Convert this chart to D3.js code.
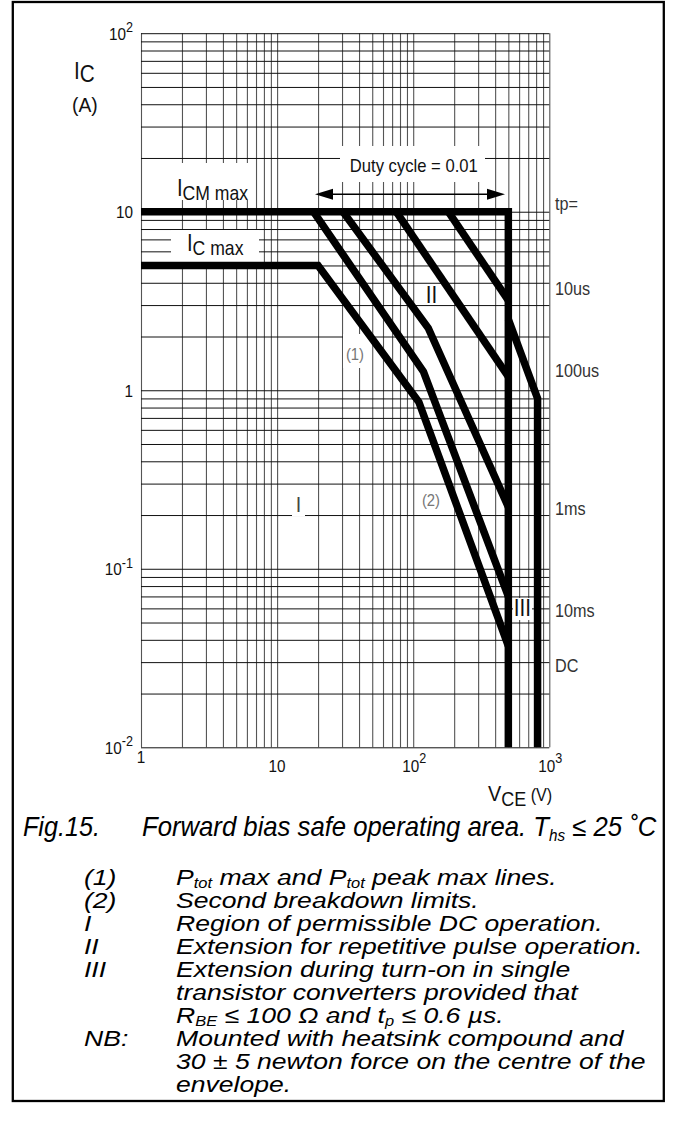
<!DOCTYPE html>
<html>
<head>
<meta charset="utf-8">
<script src="https://cdn.jsdelivr.net/npm/d3@7"></script>
<style>
  html, body { margin: 0; padding: 0; background: #fff; }
  svg { display: block; }
  text { font-family: "Liberation Sans", Arial, Helvetica, sans-serif; white-space: pre; }
</style>
</head>
<body>
<svg id="chart" width="674" height="1142"></svg>
<script>
// ---------------- DATA ----------------
const vceDomain = [1, 1000];      // V_CE (V)
const icDomain = [0.01, 100];     // I_C (A)

const xTickLabels = [
  { v: 1, base: "1" }, { v: 10, base: "10" },
  { v: 100, base: "10", exp: "2" }, { v: 1000, base: "10", exp: "3" }
];
const yTickLabels = [
  { v: 100, base: "10", exp: "2" }, { v: 10, base: "10" }, { v: 1, base: "1" },
  { v: 0.1, base: "10", exp: "-1" }, { v: 0.01, base: "10", exp: "-2" }
];

// [V_CE, I_C] vertices of the limit lines
const icmMaxLine = [[1, 10], [500, 10], [500, 0.01]];
const dcLine     = [[1, 5], [20, 5], [110, 0.86], [500, 0.037]];
const line10ms   = [[18.5, 10], [119, 1.27], [500, 0.07]];
const line1ms    = [[30.5, 10], [129, 2.23], [500, 0.222]];
const line100us  = [[75, 10], [500, 1.19]];
const line10us   = [[181, 10], [500, 3.19]];
const regionIII  = [[500, 2.5], [820, 0.9], [820, 0.01]];

const pulseLabels = ["tp=", "10us", "100us", "1ms", "10ms", "DC"];

const notes = [
  { key: "(1)", parts: ["P", { t: "tot", sub: true }, " max and P", { t: "tot", sub: true }, " peak max lines."] },
  { key: "(2)", parts: ["Second breakdown limits."] },
  { key: "I",   parts: ["Region of permissible DC operation."] },
  { key: "II",  parts: ["Extension for repetitive pulse operation."] },
  { key: "III", parts: ["Extension during turn-on in single"] },
  { key: "",    parts: ["transistor converters provided that"] },
  { key: "",    parts: ["R", { t: "BE", sub: true }, " \u2264 100 \u03A9 and t", { t: "p", sub: true }, " \u2264 0.6 \u00B5s."] },
  { key: "NB:", parts: ["Mounted with heatsink compound and"] },
  { key: "",    parts: ["30 \u00B1 5 newton force on the centre of the"] },
  { key: "",    parts: ["envelope."] }
];

// ---------------- LAYOUT ----------------
const svg = d3.select("#chart");
const L = 141, R = 549.3, T = 33.2, B = 747.3;

const x = d3.scaleLog().domain(vceDomain).range([L, R]);
const y = d3.scaleLog().domain(icDomain).range([B, T]);

svg.append("rect").attr("width", 674).attr("height", 1142).attr("fill", "#fff");

// helper: text with tspans (sub / sup), optional horizontal condensing
function txt(parent, px, py, parts, o) {
  o = Object.assign({ size: 15, anchor: "start", sx: 1, fill: "#111", italic: false }, o || {});
  const t = parent.append("text").attr("x", px).attr("y", py)
    .attr("font-size", o.size).attr("text-anchor", o.anchor).attr("fill", o.fill)
    .attr("font-style", o.italic ? "italic" : "normal");
  if (o.sx !== 1) t.attr("transform", `translate(${px},0) scale(${o.sx},1) translate(${-px},0)`);
  let cur = 0;
  (typeof parts === "string" ? [parts] : parts).forEach(p => {
    if (typeof p === "string") p = { t: p };
    let off = p.off !== undefined ? p.off : 0, size = p.size;
    if (p.sub) { off = o.subOff !== undefined ? o.subOff : o.size * 0.25; size = size || o.size * 0.62; }
    if (p.sup) { off = o.supOff !== undefined ? o.supOff : -o.size * 0.45; size = size || o.size * 0.8; }
    const ts = t.append("tspan").attr("dy", off - cur).text(p.t);
    if (size) ts.attr("font-size", size);
    cur = off;
  });
  return t;
}
function fitWidth(t, px, w) {
  t.attr("transform", null);
  const bw = t.node().getBBox().width;
  const s = w / bw;
  t.attr("transform", `translate(${px},0) scale(${s},1) translate(${-px},0)`);
  return s;
}

// ---------------- GRID ----------------
const gridX = svg.append("g").attr("transform", `translate(0,${B})`)
  .call(d3.axisBottom(x).tickSize(-(B - T)).tickFormat(""));
gridX.select(".domain").remove();
gridX.selectAll("line").attr("stroke", "#555").attr("stroke-width", 1.1);

const gridY = svg.append("g").attr("transform", `translate(${L},0)`)
  .call(d3.axisLeft(y).tickSize(-(R - L)).tickFormat(""));
gridY.select(".domain").remove();
gridY.selectAll("line").attr("stroke", "#111").attr("stroke-width", 1);

// white label backgrounds cutting the grid
const boxes = [
  [340, 146, 145, 36],   // Duty cycle
  [172, 163, 83, 37],    // ICM max
  [171, 230, 88, 32],    // IC max
  [343, 334, 25, 34],    // (1)
  [419, 488, 24, 22],    // (2)
  [513, 598, 19, 22],    // III
  [292, 494, 13, 22]     // I
];
svg.append("g").selectAll("rect").data(boxes).join("rect")
  .attr("x", d => d[0]).attr("y", d => d[1]).attr("width", d => d[2]).attr("height", d => d[3])
  .attr("fill", "#fff");

// ---------------- LIMIT LINES ----------------
const line = d3.line().x(d => x(d[0])).y(d => y(d[1]));
const curves = [icmMaxLine, dcLine, line10ms, line1ms, line100us, line10us, regionIII];
svg.append("g").selectAll("path").data(curves).join("path")
  .attr("d", line).attr("fill", "none").attr("stroke", "#000")
  .attr("stroke-width", 7.5).attr("stroke-linejoin", "miter").attr("stroke-linecap", "butt");

// duty cycle arrow
const ag = svg.append("g");
const ay = 194.3, ax1 = 315, ax2 = 505;
ag.append("line").attr("x1", ax1 + 10).attr("x2", ax2 - 10).attr("y1", ay).attr("y2", ay)
  .attr("stroke", "#000").attr("stroke-width", 1.4);
ag.append("path").attr("d", `M${ax1},${ay} L${ax1 + 18},${ay - 5.5} L${ax1 + 18},${ay + 5.5} Z`).attr("fill", "#000");
ag.append("path").attr("d", `M${ax2},${ay} L${ax2 - 18},${ay - 5.5} L${ax2 - 18},${ay + 5.5} Z`).attr("fill", "#000");

// ---------------- TEXT ----------------
const tg = svg.append("g");

// tick labels
yTickLabels.forEach(d => {
  const parts = [d.base];
  if (d.exp) parts.push({ t: d.exp, off: -7.5, size: 14 });
  txt(tg, 133, y(d.v) + 6.5, parts, { size: 17, anchor: "end", sx: 0.9 });
});
xTickLabels.forEach(d => {
  const parts = [d.base];
  if (d.exp) parts.push({ t: d.exp, off: -8.5, size: 14 });
  const by = d.v === 1 ? 763.5 : 772;
  txt(tg, x(d.v) + (d.exp ? 1 : 0), by, parts, { size: 17, anchor: "middle", sx: 0.9 });
});

// axis titles
txt(tg, 74, 79, ["I", { t: "C", off: 3.5, size: 23 }], { size: 23, sx: 0.9 });
txt(tg, 72, 112, ["(A)"], { size: 21, sx: 0.92 });
txt(tg, 488, 801, ["V", { t: "CE", off: 5, size: 20 }, { t: " (V)", off: 0, size: 18 }], { size: 22, sx: 0.9 });

// in-plot labels
txt(tg, 413.8, 172, ["Duty cycle = 0.01"], { size: 18.5, anchor: "middle", sx: 0.9 });
txt(tg, 177, 196, ["I", { t: "CM max", off: 4, size: 20 }], { size: 23, sx: 0.88 });
txt(tg, 187, 251, ["I", { t: "C max", off: 4, size: 20 }], { size: 23, sx: 0.88 });
txt(tg, 355, 360, ["(1)"], { size: 16.5, anchor: "middle", sx: 0.9, fill: "#777" });
txt(tg, 431, 506.5, ["(2)"], { size: 16.5, anchor: "middle", sx: 0.9, fill: "#777" });
txt(tg, 431.5, 303, ["II"], { size: 23, anchor: "middle", sx: 0.9 });
txt(tg, 522.5, 616.5, ["III"], { size: 23, anchor: "middle", sx: 0.9 });
txt(tg, 298.5, 512, ["I"], { size: 22, anchor: "middle", sx: 0.9, fill: "#444" });

// pulse duration labels at right
const pulseBase = [210, 295, 377, 515, 617, 672];
pulseLabels.forEach((s, i) => {
  txt(tg, 555, pulseBase[i], [s], { size: 18, sx: 0.9, fill: "#333" });
});

// caption
const cap1 = txt(tg, 23, 836, ["Fig.15."], { size: 27, italic: true, fill: "#000" });
fitWidth(cap1, 23, 77);
const cap2 = txt(tg, 142, 836, ["Forward bias safe operating area. T", { t: "hs", off: 5, size: 16 },
  { t: " \u2264 25 \u02DAC", off: 0 }], { size: 27, italic: true, fill: "#000" });
fitWidth(cap2, 142, 515);

// notes
const ng = svg.append("g");
const noteSize = 22.5;
const probe = txt(ng, 176, -100, notes[3].parts, { size: noteSize, italic: true });
const noteScale = fitWidth(probe, 176, 467);
probe.remove();
notes.forEach((n, i) => {
  const by = 885 + 23 * i;
  if (n.key) txt(ng, 84, by, [n.key], { size: noteSize, italic: true, sx: noteScale, fill: "#000" });
  txt(ng, 176, by, n.parts, { size: noteSize, italic: true, sx: noteScale, fill: "#000", subOff: 3.5 });
});

// outer frame
svg.append("rect").attr("x", 12.8).attr("y", 2).attr("width", 651).attr("height", 1099)
  .attr("fill", "none").attr("stroke", "#000").attr("stroke-width", 2.3);
</script>
</body>
</html>
